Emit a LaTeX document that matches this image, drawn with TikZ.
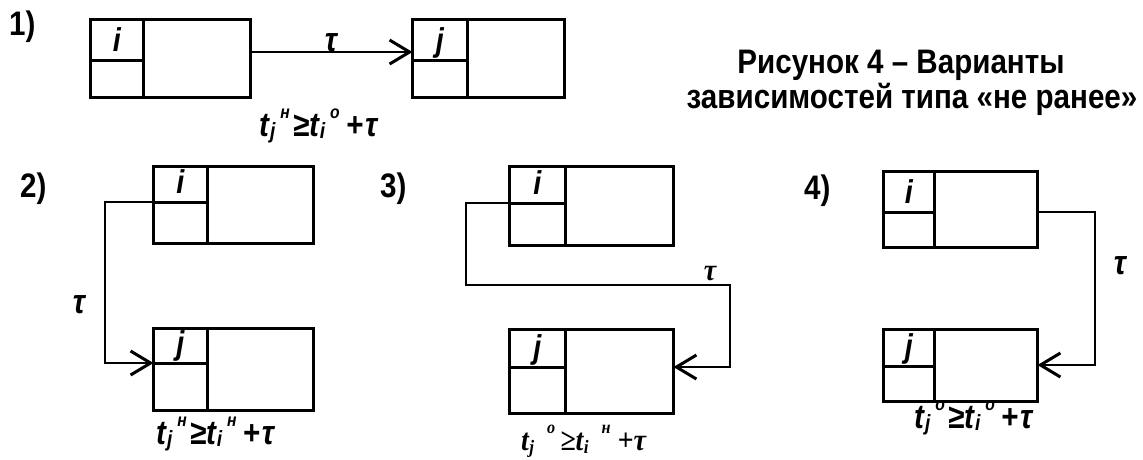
\documentclass[tikz,border=0pt]{standalone}
\usepackage{fontspec}
\setmainfont{Liberation Sans}[FakeStretch=0.87]
\newfontfamily\tnr{Liberation Serif}[FakeStretch=0.9]
\usetikzlibrary{arrows.meta,calc}
\tikzset{
  box/.style n args={2}{draw, line width=3pt, inner sep=0pt, outer sep=0pt,
    minimum width=#1, minimum height=#2, anchor=north west},
  boxline/.style={line width=3pt},
  conn/.style={line width=2.5pt},
  tipped/.style={-{Straight Barb[length=20pt,width=24pt,line width=3pt]}},
  lab/.style={inner sep=0pt, font=\fontsize{33}{33}\selectfont\bfseries\itshape},
  num/.style={inner sep=0pt, anchor=base west, font=\fontsize{34}{34}\selectfont\bfseries},
  ttl/.style={inner sep=0pt, font=\fontsize{34}{34}\selectfont\bfseries, anchor=base},
  frm/.style={inner sep=0pt, anchor=base west, font=\fontsize{34}{34}\selectfont\bfseries\itshape},
  frms/.style={inner sep=0pt, anchor=base west, font=\fontsize{31}{31}\selectfont\tnr\bfseries\itshape},
  tau/.style={inner sep=0pt, font=\fontsize{34}{34}\selectfont\bfseries\itshape},
}
\newcommand\boxcells[4]{%
  \draw[boxline] ($(#1.north west)+(#2,0)$) -- ($(#1.south west)+(#2,0)$);
  \draw[boxline] ($(#1.north west)+(0,#3)$) -- ($(#1.north west)+(#2,#3)$);
  \node[lab, anchor=base] (#1l) at ($(#1.north west)+(#2/2,#3-9)$) {#4};
}
% t with subscript and a superscript set further right
\newcommand\Tsup[2]{t\kern1pt\raisebox{-2pt}{\fontsize{22}{22}\selectfont #1}\kern5pt\raisebox{18pt}{\fontsize{18}{18}\selectfont #2}\kern3pt}
\newcommand\Tser[2]{t\kern0.5pt\raisebox{-3pt}{\fontsize{19}{19}\selectfont #1}\kern13pt\raisebox{17pt}{\fontsize{18}{18}\selectfont #2}}
\begin{document}
\begin{tikzpicture}[x=1pt,y=-1pt]
\useasboundingbox (0,0) rectangle (1143,459);
% panel labels
\node[num] (n1) at (9,35) {1)};
\node[num] (n2) at (20,197) {2)};
\node[num] (n3) at (380,197) {3)};
\node[num] (n4) at (804,199) {4)};
% title
\node[ttl] (t1) at (901,73) {Рисунок 4 – Варианты};
\node[ttl] (t2) at (912,108) {зависимостей типа «не ранее»};
% panel 1
\node[box={160pt}{78pt}] (b1i) at (90.5,19.5) {};
\boxcells{b1i}{52.5}{40.5}{i}
\node[box={151.5pt}{78pt}] (b1j) at (412.5,19.5) {};
\boxcells{b1j}{54.5}{40.5}{j}
\draw[conn,tipped] ($(b1i.north east)+(0,32.5)$) -- ($(b1j.north west)+(0,32.5)$);
\node[tau] (tau1) at (331,43) {τ};
\node[frm] (f1) at (259,136) {\Tsup{j}{н}≥\Tsup{i}{о}\kern3pt+\kern2pt τ};
% panel 2
\node[box={160pt}{77pt}] (b2i) at (153.5,166.5) {};
\boxcells{b2i}{53.5}{35.5}{i}
\node[box={160pt}{82pt}] (b2j) at (153.5,328.5) {};
\boxcells{b2j}{53.5}{34.5}{j}
\draw[conn,tipped] ($(b2i.north west)+(0,35.5)$) -- ++(-48.5,0) |- ($(b2j.north west)+(0,34.5)$);
\node[tau] (tau2) at (79,305) {τ};
\node[frm] (f2) at (156,444) {\Tsup{j}{н}≥\Tsup{i}{н}\kern3pt+\kern2pt τ};
% panel 3
\node[box={164pt}{79pt}] (b3i) at (509.5,166.5) {};
\boxcells{b3i}{55.5}{36.5}{i}
\node[box={164pt}{84pt}] (b3j) at (509.5,329.5) {};
\boxcells{b3j}{55.5}{37.5}{j}
\draw[conn,tipped] ($(b3i.north west)+(0,36.5)$) -- ++(-43.5,0)
   |- ($(b3j.north east)+(56.5,-44.5)$) |- ($(b3j.north east)+(0,37.5)$);
\node[tau, font=\fontsize{31}{31}\selectfont\tnr\bfseries\itshape] (tau3) at (710,274) {τ};
\node[frms] (f3) at (521,450) {\Tser{j}{о}\kern5pt≥\Tser{i}{н}\kern7pt+τ};
% panel 4
\node[box={154pt}{76pt}] (b4i) at (883.5,171.5) {};
\boxcells{b4i}{50.5}{40.5}{i}
\node[box={154pt}{72pt}] (b4j) at (883.5,329.5) {};
\boxcells{b4j}{50.5}{36.5}{j}
\draw[conn,tipped] ($(b4i.north east)+(0,40.5)$) -- ++(57.5,0) |- ($(b4j.north east)+(0,35.5)$);
\node[tau] (tau4) at (1120,266) {τ};
\node[frm] (f4) at (914,428) {\Tsup{j}{о}≥\Tsup{i}{о}\kern3pt+\kern2pt τ};
\end{tikzpicture}
\end{document}
